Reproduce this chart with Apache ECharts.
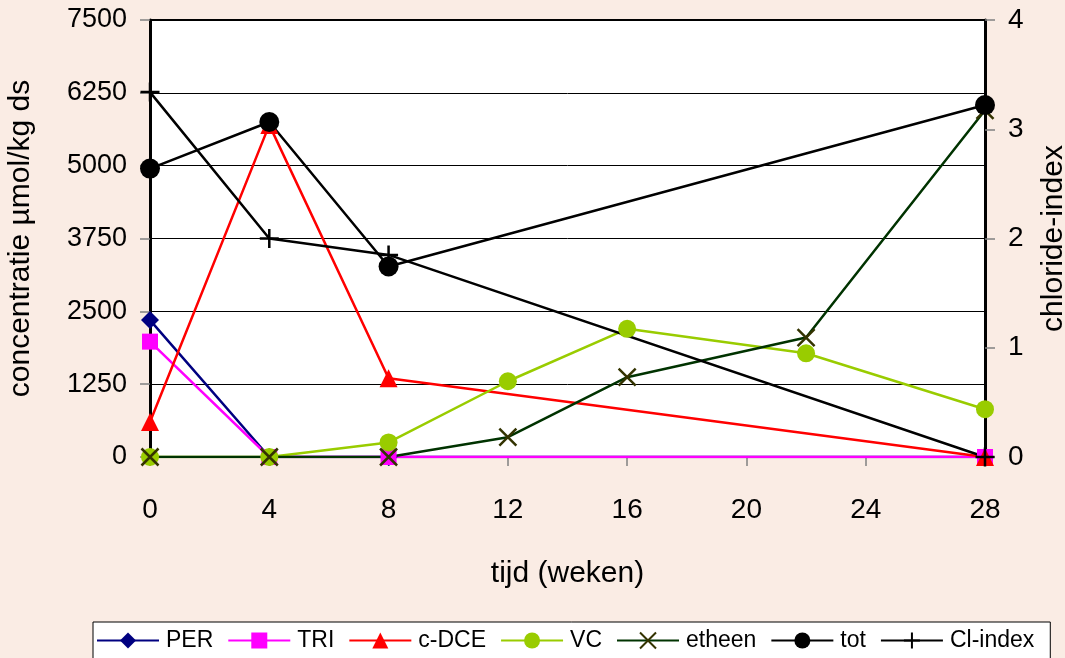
<!DOCTYPE html>
<html>
<head>
<meta charset="utf-8">
<script src="https://cdn.jsdelivr.net/npm/echarts@6/dist/echarts.min.js"></script>
<style>
  html, body { margin: 0; padding: 0; background: #FAECE4; overflow: hidden; }
  #chart { width: 1065px; height: 658px; }
</style>
</head>
<body>
<div id="chart"></div>
<script>
// Tijd (weken) per meetreeks en gemeten concentraties (µmol/kg ds)
const perWeeks = [0, 4, 8, 28];
const perValues = [2350, 0, 0, 0];

const triWeeks = [0, 4, 8, 28];
const triValues = [1980, 0, 0, 0];

const cdceWeeks = [0, 4, 8, 28];
const cdceValues = [600, 5700, 1350, 0];

const vcWeeks = [0, 4, 8, 12, 16, 22, 28];
const vcValues = [0, 0, 250, 1300, 2200, 1780, 820];

const etheenWeeks = [0, 4, 8, 12, 16, 22, 28];
const etheenValues = [0, 0, 0, 340, 1370, 2050, 5950];

const totWeeks = [0, 4, 8, 28];
const totValues = [4950, 5750, 3270, 6040];

// chloride-index (rechter as)
const clWeeks = [0, 4, 8, 28];
const clValues = [3.34, 2.0, 1.85, 0];

const xTicks = [0, 4, 8, 12, 16, 20, 24, 28];
const leftTicks = [0, 1250, 2500, 3750, 5000, 6250, 7500];
const rightTicks = [0, 1, 2, 3, 4];

const pairs = (xs, ys) => xs.map((x, i) => [x, ys[i]]);

const FONT = '"Liberation Sans", Arial, sans-serif';
const crossPath = 'path://M0,0L10,10M10,0L0,10';
const plusPath = 'path://M5,0L5,10M0,5L10,5';
const plain = v => String(v);

function lineSeries(name, data, color, symbol, size, extra) {
  return Object.assign({
    name: name,
    type: 'line',
    data: data,
    symbol: symbol,
    symbolSize: size,
    showAllSymbol: true,
    lineStyle: { color: color, width: 2.5 },
    itemStyle: { color: color },
    emphasis: { disabled: true },
    z: 3
  }, extra || {});
}

const chart = echarts.init(document.getElementById('chart'), null, { renderer: 'canvas' });

chart.setOption({
  animation: false,
  backgroundColor: '#FAECE4',
  textStyle: { fontFamily: FONT, color: '#000' },
  grid: {
    left: 150, right: 80, top: 20, bottom: 201,
    outerBoundsMode: 'none',
    containLabel: false,
    show: true, backgroundColor: '#FFFFFF', borderColor: '#000', borderWidth: 2
  },
  xAxis: {
    type: 'value',
    min: xTicks[0],
    max: xTicks[xTicks.length - 1],
    interval: xTicks[1] - xTicks[0],
    name: 'tijd (weken)',
    nameLocation: 'middle',
    nameGap: 102,
    nameTextStyle: { fontSize: 30, fontFamily: FONT, color: '#000' },
    axisLine: { show: true, lineStyle: { color: '#000', width: 2 } },
    axisTick: { show: true, inside: false, length: 9, lineStyle: { color: '#808080', width: 1.5 } },
    axisLabel: { fontSize: 28, fontFamily: FONT, color: '#000', margin: 39, formatter: plain },
    splitLine: { show: false }
  },
  yAxis: [
    {
      type: 'value',
      position: 'left',
      min: leftTicks[0],
      max: leftTicks[leftTicks.length - 1],
      interval: leftTicks[1] - leftTicks[0],
      name: 'concentratie µmol/kg ds',
      nameLocation: 'middle',
      nameRotate: 90,
      nameGap: 114,
      nameTextStyle: { fontSize: 30, fontFamily: FONT, color: '#000' },
      axisLine: { show: true, lineStyle: { color: '#000', width: 3 } },
      axisTick: { show: true, length: 10, lineStyle: { color: '#808080', width: 1.5 } },
      axisLabel: { fontSize: 27, fontFamily: FONT, color: '#000', margin: 23, formatter: plain },
      splitLine: { show: true, lineStyle: { color: '#000', width: 1 } }
    },
    {
      type: 'value',
      position: 'right',
      min: rightTicks[0],
      max: rightTicks[rightTicks.length - 1],
      interval: rightTicks[1] - rightTicks[0],
      name: 'chloride-index',
      nameLocation: 'middle',
      nameRotate: 90,
      nameGap: 54,
      nameTextStyle: { fontSize: 30, fontFamily: FONT, color: '#000' },
      axisLine: { show: true, lineStyle: { color: '#000', width: 3 } },
      axisTick: { show: true, length: 10, lineStyle: { color: '#808080', width: 1.5 } },
      axisLabel: { fontSize: 28, fontFamily: FONT, color: '#000', margin: 23, formatter: plain },
      splitLine: { show: false }
    }
  ],
  legend: {
    left: 93,
    top: 622,
    orient: 'horizontal',
    itemWidth: 62,
    itemHeight: 20,
    itemGap: 14,
    padding: [7, 16, 20, 3],
    backgroundColor: '#FFFFFF',
    borderColor: '#000',
    borderWidth: 1,
    textStyle: { fontSize: 23, fontFamily: FONT, color: '#000', padding: [0, 0, 0, 2] },
    data: ['PER', 'TRI', 'c-DCE', 'VC', 'etheen', 'tot', 'Cl-index']
  },
  series: [
    lineSeries('PER', pairs(perWeeks, perValues), '#000080', 'diamond', 18),
    lineSeries('TRI', pairs(triWeeks, triValues), '#FF00FF', 'rect', 16),
    lineSeries('c-DCE', pairs(cdceWeeks, cdceValues), '#FF0000', 'triangle', 18),
    lineSeries('VC', pairs(vcWeeks, vcValues), '#99CC00', 'circle', 18),
    lineSeries('etheen', pairs(etheenWeeks, etheenValues), '#003300', crossPath, 17, {
      itemStyle: { color: '#333300', borderColor: '#333300', borderWidth: 2.5 }
    }),
    lineSeries('tot', pairs(totWeeks, totValues), '#000000', 'circle', 20),
    lineSeries('Cl-index', pairs(clWeeks, clValues), '#000000', plusPath, 19, {
      yAxisIndex: 1,
      itemStyle: { color: '#000000', borderColor: '#000000', borderWidth: 2.5 }
    })
  ]
});
</script>
</body>
</html>
